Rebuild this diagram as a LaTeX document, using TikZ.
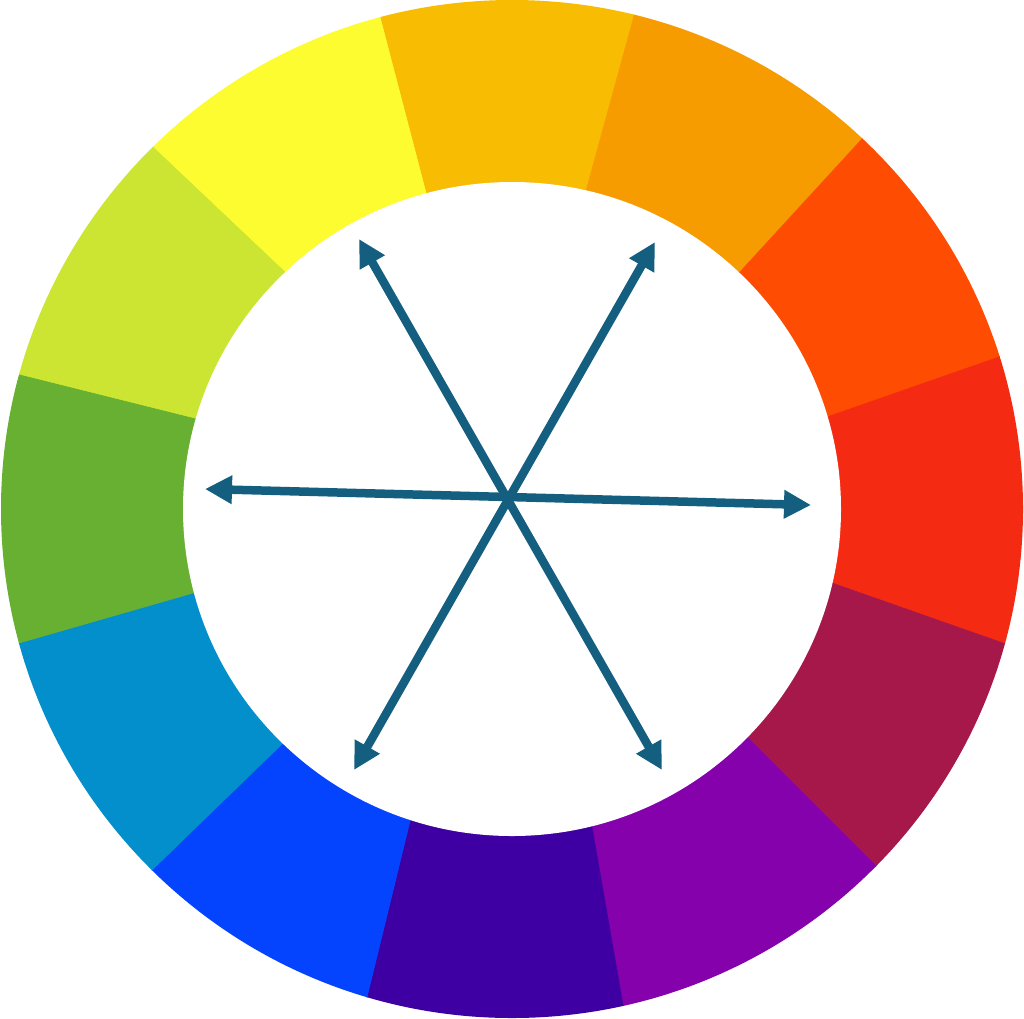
\documentclass[tikz,border=0pt]{standalone}
\usetikzlibrary{calc,arrows.meta}
\definecolor{cYO}{HTML}{F8BC02}
\definecolor{cO}{HTML}{F79C00}
\definecolor{cRO}{HTML}{FE4C03}
\definecolor{cR}{HTML}{F52A12}
\definecolor{cRV}{HTML}{A6184A}
\definecolor{cV}{HTML}{8501AC}
\definecolor{cBV}{HTML}{3F00A3}
\definecolor{cB}{HTML}{0444FF}
\definecolor{cBG}{HTML}{028FCB}
\definecolor{cG}{HTML}{67B032}
\definecolor{cYG}{HTML}{CBE532}
\definecolor{cY}{HTML}{FDFC31}
\definecolor{arrowblue}{HTML}{145F80}
\tikzset{
  dblarrow/.style={draw=arrowblue, line width=8.5pt, {Triangle[length=27pt,width=27pt]}-{Triangle[length=27pt,width=27pt]}},
}
\begin{document}
\begin{tikzpicture}[x=1pt,y=-1pt]
\useasboundingbox (0,0) rectangle (1024,1018);
\fill[white] (0,0) rectangle (1024,1018);
\coordinate (c) at (512,509);
% boundaries: inner / outer points
\coordinate (i1) at (586,191);  \coordinate (o1) at (634,16);
\coordinate (i2) at (739,273);  \coordinate (o2) at (862,139);
\coordinate (i3) at (827,417);  \coordinate (o3) at (999,357);
\coordinate (i4) at (832,583);  \coordinate (o4) at (1003,643);
\coordinate (i5) at (745,735);  \coordinate (o5) at (873,863);
\coordinate (i6) at (592,827);  \coordinate (o6) at (623,1005);
\coordinate (i7) at (410,821);  \coordinate (o7) at (367,997);
\coordinate (i8) at (282,744);  \coordinate (o8) at (151,871);
\coordinate (i9) at (193,593);  \coordinate (o9) at (19,643);
\coordinate (i10) at (195,418); \coordinate (o10) at (19,374);
\coordinate (i11) at (286,272); \coordinate (o11) at (155,148);
\coordinate (i12) at (426,193); \coordinate (o12) at (380,17);
\foreach \k in {1,...,12}{
  \coordinate (e\k) at ($(i\k)!1.7!(o\k)$);
}
\begin{scope}
  \clip (c) ellipse [x radius=511, y radius=509];
  \foreach \a/\b/\col in {12/1/cYO,1/2/cO,2/3/cRO,3/4/cR,4/5/cRV,5/6/cV,6/7/cBV,7/8/cB,8/9/cBG,9/10/cG,10/11/cYG,11/12/cY}{
    \filldraw[fill=\col, draw=\col, line width=0.6pt] (c) -- (i\a) -- (e\a) -- (e\b) -- (i\b) -- cycle;
  }
\end{scope}
\fill[white] (c) ellipse [x radius=329, y radius=327];
% arrows
\coordinate (ul) at (359,239);
\coordinate (lr) at (662,770);
\coordinate (ur) at (655,242);
\coordinate (ll) at (354,770);
\coordinate (lt) at (205,489);
\coordinate (rt) at (811,505);
\draw[dblarrow] (ul) -- (lr);
\draw[dblarrow] (ur) -- (ll);
\draw[dblarrow] (lt) -- (rt);
\end{tikzpicture}
\end{document}
